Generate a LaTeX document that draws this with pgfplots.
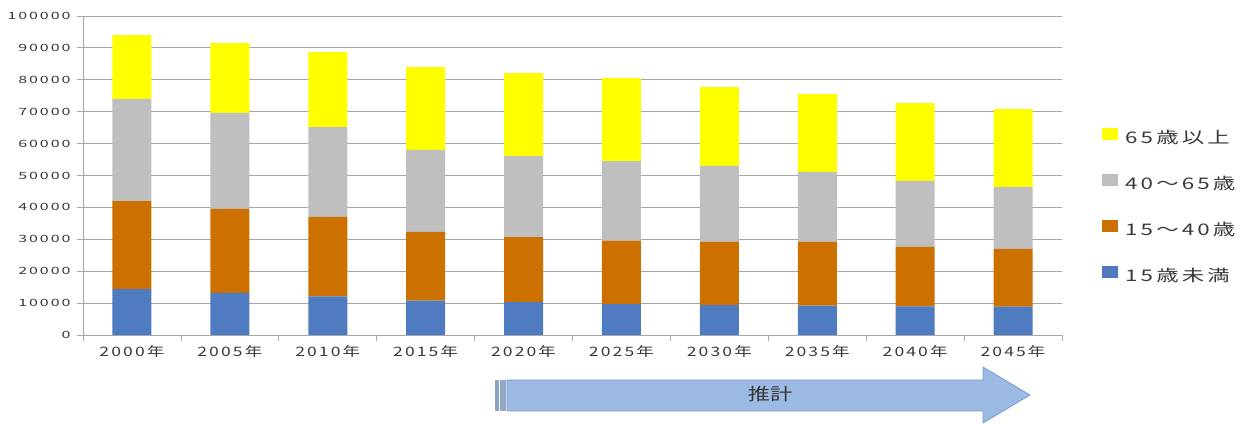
\documentclass[border=0pt]{standalone}
\usepackage{graphicx}
\usepackage{pgfplots}
\pgfplotsset{compat=1.18}
\usepackage{pgfplotstable}
\usepackage{fontspec}
\setmainfont{Noto Sans CJK JP}
\newfontfamily\tickfont[LetterSpace=12]{Noto Sans CJK JP}
\newfontfamily\legfont[LetterSpace=14]{Noto Sans CJK JP}
\newcommand{\yl}[1]{\scalebox{1.6}[1]{#1}}
\newcommand{\xl}[1]{\scalebox{1.35}[1]{#1}}
\newcommand{\lgl}[1]{\scalebox{1.4}[1]{#1}}
\definecolor{cyel}{HTML}{FFFF00}
\definecolor{cgray}{HTML}{BFBFBF}
\definecolor{corange}{HTML}{CC7000}
\definecolor{cblue}{HTML}{4F7BC0}
\definecolor{gridc}{HTML}{A6A6A6}
\definecolor{txt}{HTML}{383838}
\definecolor{arrowfill}{HTML}{9DBAE4}
\definecolor{arrowdraw}{HTML}{7B9BCB}
\pgfplotstableread{
x blue orange gray yellow
0 14400 27600 32000 20000
1 13200 26300 30100 21900
2 12100 24900 28200 23500
3 10800 21500 25700 26000
4 10300 20400 25400 26000
5 9700 19800 25000 26100
6 9400 19800 23800 24700
7 9200 20000 21900 24400
8 9000 18600 20700 24400
9 8900 18100 19400 24400
}\popdata
\begin{document}
\begin{tikzpicture}[x=1pt,y=1pt]
\useasboundingbox (0,0) rectangle (1246,425);
\begin{axis}[
  at={(83pt,90pt)}, anchor=south west,
  scale only axis, width=979pt, height=319pt,
  xmin=-0.5, xmax=9.5, ymin=0, ymax=100000,
  scaled y ticks=false,
  ybar stacked, bar width=39pt,
  axis x line*=bottom, axis y line*=left,
  axis line style={draw=gridc, line width=0.8pt},
  xtick={0,...,9},
  xticklabels={\xl{2000年},\xl{2005年},\xl{2010年},\xl{2015年},\xl{2020年},\xl{2025年},\xl{2030年},\xl{2035年},\xl{2040年},\xl{2045年}},
  major x tick style={draw=none},
  minor xtick={-0.5,0.5,...,9.5},
  minor x tick style={draw=gridc, line width=0.8pt},
  minor tick length=6pt,
  ytick={0,10000,...,100000},
  yticklabels={\yl{0},\yl{10000},\yl{20000},\yl{30000},\yl{40000},\yl{50000},\yl{60000},\yl{70000},\yl{80000},\yl{90000},\yl{100000}},
  major y tick style={draw=gridc, line width=0.8pt},
  major tick length=6pt,
  tick align=outside,
  ymajorgrids,
  major grid style={draw=gridc, line width=0.9pt},
  xticklabel style={font=\tickfont\fontsize{13}{15}\selectfont, text=txt, yshift=-1pt},
  yticklabel style={font=\tickfont\fontsize{10}{12}\selectfont, text=txt, xshift=-3pt},
  reverse legend,
  legend style={at={(1.0408,0.650)}, anchor=north west, draw=none, fill=none,
    font=\legfont\fontsize{16}{18}\selectfont, text=txt, row sep=27.4pt, inner sep=0pt,
    nodes={inner sep=0pt, text height=12pt, text depth=3pt},
    /tikz/every odd column/.append style={column sep=7pt}},
  legend image code/.code={\fill[#1] (0pt,-1pt) rectangle (16pt,11pt);},
  legend cell align=left,
]
\addplot[fill=cblue, draw=none] table[x=x, y=blue] {\popdata};
\addlegendentry{\lgl{15歳未満}}
\addplot[fill=corange, draw=none] table[x=x, y=orange] {\popdata};
\addlegendentry{\lgl{15〜40歳}}
\addplot[fill=cgray, draw=none] table[x=x, y=gray] {\popdata};
\addlegendentry{\lgl{40〜65歳}}
\addplot[fill=cyel, draw=none] table[x=x, y=yellow] {\popdata};
\addlegendentry{\lgl{65歳以上}}
\end{axis}
% forecast arrow
\fill[fill=arrowdraw!90!black!80] (495,14) rectangle (499,45);
\fill[fill=arrowfill!70!gray] (500,14) rectangle (506,45);
\draw[fill=arrowfill, draw=arrowdraw, line width=0.8pt]
  (507,14) -- (983,14) -- (983,2) -- (1030,30) -- (983,58) -- (983,45) -- (507,45) -- cycle;
\node[font=\fontsize{17}{19}\selectfont, text=black!80] at (770,31) {\scalebox{1.3}[1]{推計}};
\end{tikzpicture}
\end{document}
